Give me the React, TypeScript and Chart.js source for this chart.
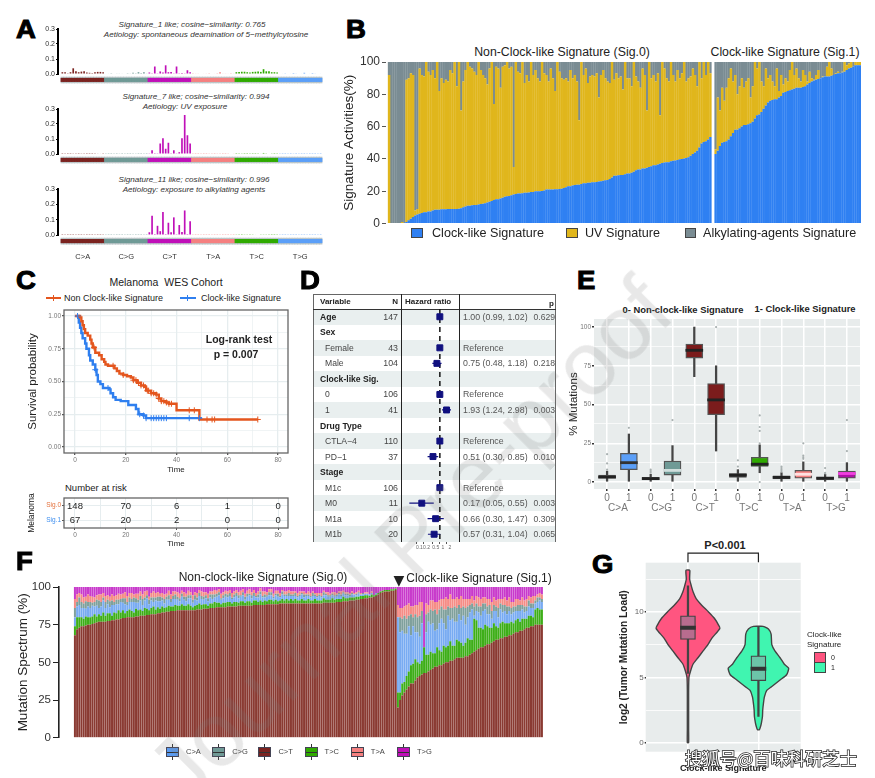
import React, { useEffect, useRef } from "react";
import { Chart, registerables } from "chart.js";
Chart.register(...registerables);
Chart.defaults.font.family = "'Liberation Sans', Arial, sans-serif";

// ---------- Panel A ----------
const mutationTypes = ["C>A", "C>G", "C>T", "T>A", "T>C", "T>G"];
const stripColors = ["#7B2320", "#6F9A96", "#C010B8", "#F58080", "#2FAA00", "#5B9FF8"];
const sig1Values = [
  .012,.012,.005,.012,.038,.018,.012,.016,.018,.01,.008,.006,.012,.014,.014,.012,
  .004,.003,.005,.003,.004,.004,.003,.004,.005,.004,.008,.005,.012,.006,.012,.004,
  .01,.002,.05,.002,.017,.01,.058,.012,.014,.002,.05,.005,.006,.002,.025,.012,
  .005,.004,.004,.004,.003,.004,.005,.004,.003,.005,.012,.004,.004,.003,.005,.004,
  .012,.014,.015,.015,.012,.01,.014,.015,.016,.014,.032,.018,.018,.012,.012,.01,
  .003,.003,.002,.004,.003,.006,.004,.003,.003,.008,.004,.003,.006,.004,.003,.003,
];
const sig7Values = [
  .001,.001,.001,.001,.002,.001,.001,.002,.001,.001,.001,.001,.002,.004,.003,.001,
  .001,.001,.001,.001,.001,.002,.001,.001,.001,.001,.001,.002,.001,.001,.001,.001,
  .002,.025,.001,.005,.07,.105,.035,.075,.001,.025,.002,.012,.105,.26,.125,.07,
  .001,.001,.001,.002,.001,.001,.002,.001,.001,.002,.001,.001,.001,.002,.003,.004,
  .001,.001,.002,.001,.001,.002,.001,.001,.002,.003,.007,.002,.003,.002,.001,.001,
  .001,.001,.001,.001,.001,.002,.001,.001,.001,.001,.002,.001,.001,.001,.001,.001,
];
const sig11Values = [
  .001,.001,.001,.001,.001,.001,.001,.001,.001,.001,.001,.001,.001,.001,.001,.001,
  .001,.001,.001,.001,.001,.001,.001,.001,.001,.001,.001,.001,.001,.001,.001,.001,
  .018,.125,.006,.06,.025,.15,.006,.08,.018,.115,.005,.065,.02,.16,.006,.09,
  .001,.001,.001,.001,.001,.001,.001,.001,.001,.001,.001,.001,.001,.001,.001,.001,
  .002,.001,.001,.002,.002,.002,.002,.003,.003,.002,.002,.002,.001,.001,.001,.001,
  .001,.001,.001,.001,.001,.001,.001,.001,.001,.001,.001,.001,.001,.001,.001,.001,
];

// ---------- Panel B ----------
const clockSig0 = [
  0,0,0,0,0,0,0,0,1,2,
  3,4,5,5.5,6,6.5,7,7,7.5,7.5,
  8,8.5,8.5,8.5,8.8,8.8,8.8,9,9,9,
  9,9,9.2,9.5,10,10.5,11,11,11.3,11.5,
  11.5,11.7,12,12.2,12.5,13,13.5,14,14.5,15,
  15,15.5,16,16.5,16.8,17,17.5,18,18.2,18.5,
  18.5,18.8,19,19,19.2,19.5,19.5,20,20,20,
  20.2,20.5,21,21,21,21,21.2,21.2,21.3,21.5,
  22,22.5,23,23,23.5,23.8,24,24,24.5,25,
  25,25.2,25.3,25.5,25.5,25.7,26,26.2,26.5,26.8,
  27,27.5,28.5,29.5,29.5,29.8,30,30,30.5,31,
  31,31.5,32,33,33.5,33.5,34,34,34.5,35,
  35.5,36,36,36.5,37,37.5,37.8,38,38,38.5,
  38.8,39,39.3,39.8,40,40.2,40.5,41,42,43,
  44,45,47,49.5,50.5,51,52,53.5,
];
const uvTopSig0 = [
  92,0,0,0,0,0,1,0,89,90,
  93,92,8,9,96,92,91,100,94,92,
  95,90,100,82,90,87,89,88,95,93,
  100,85,100,70,88,95,100,97,96,94,
  92,100,95,92,90,86,96,100,74,97,
  96,84,97,98,100,96,97,35,100,94,
  93,100,87,92,88,100,92,95,90,88,
  100,93,92,88,96,90,82,100,94,90,
  89,90,88,95,90,92,88,64,100,92,
  96,87,91,92,91,93,78,92,95,90,
  88,87,100,89,93,90,91,83,100,90,
  90,85,100,91,88,84,96,92,70,100,
  90,92,88,93,67,100,96,90,88,100,
  92,88,95,90,93,100,88,90,91,96,
  92,85,100,90,100,92,100,93,
];
const clockSig1 = [
  43,45,48,50,50.5,51,52,54,56,58,
  58,59,60,61,61,61.5,62,63,65,67,
  67.5,69,71,73,75,76,76.5,77,77,78,
  79,81,81.5,82,82.5,83,83.5,84,84,84,
  84.5,85,86,87,88,88.5,89,89.5,90,90.5,
  91,91,91,91.5,92,92.5,93,93,93.5,94,
  95,96,96.5,97,98,98,98,
];
const uvTopSig1 = [
  46,78,70,84,76,84,90,96,88,92,
  80,85,90,84,88,90,78,85,100,96,
  100,88,85,96,90,92,88,85,96,82,
  92,86,90,88,95,100,92,96,90,88,
  95,92,88,94,90,89,92,95,90,91,
  91,97,100,96,92,93,94,93,94,100,
  98,99,100,97,100,100,100,
];

// ---------- Panel C ----------
const kmTimes0 = [0,2,2.5,3,3.5,4,5,6,6.5,7,8,9.5,10.5,11.5,12,13,15.5,16.5,17.5,19,20.5,22,23,24.5,26,27.5,28,30,32,33,34,36,37,40,49,72];
const kmSurv0 = [1,.99,.96,.93,.90,.87,.85,.82,.79,.76,.72,.70,.67,.65,.63,.62,.60,.58,.56,.55,.54,.53,.51,.49,.47,.46,.43,.41,.40,.37,.35,.34,.33,.28,.21,.21];
const kmTimes1 = [.5,1.5,2,2.5,3,4,4.5,5.5,6,7,8,8.5,9,10,11,13.5,14,15,16,18,21,24,25,27,28,50];
const kmSurv1 = [1,.95,.91,.87,.83,.79,.75,.70,.66,.63,.59,.55,.50,.48,.45,.44,.41,.38,.36,.35,.32,.29,.25,.24,.22,.22];
const censor0 = [7.5,15,19,23,24,25,26,27,28.5,29,30,31,32,33,34,35,36,37,38,45,47,52,54,55,72];
const censor1 = [1,8,13,25.5,27,28,30,31,32,33,34,35,36,45,49];
const riskTimes = [0,20,40,60,80];
const riskSig0 = [148,70,6,1,0];
const riskSig1 = [67,20,2,0,0];

// ---------- Panel D ----------
const dVariables = ["Age","Sex","Female","Male","Clock-like Sig.","0","1","Drug Type","CTLA−4","PD−1","Stage","M1c","M0","M1a","M1b"];
const dBold = [1,1,0,0,1,0,0,1,0,0,1,0,0,0,0];
const dN = ["147","","43","104","","106","41","","110","37","","106","11","10","20"];
const dHR = [1,null,1,.75,null,1,1.93,null,1,.51,null,1,.17,.66,.57];
const dLow = [.99,null,null,.48,null,null,1.24,null,null,.30,null,null,.05,.30,.31];
const dHigh = [1.02,null,null,1.18,null,null,2.98,null,null,.85,null,null,.55,1.47,1.04];
const dText = ["1.00 (0.99, 1.02)","","Reference","0.75 (0.48, 1.18)","","Reference","1.93 (1.24, 2.98)","","Reference","0.51 (0.30, 0.85)","","Reference","0.17 (0.05, 0.55)","0.66 (0.30, 1.47)","0.57 (0.31, 1.04)"];
const dP = ["0.629","","","0.218","","","0.003","","","0.010","","","0.003","0.309","0.065"];
const dTicks = [.1,.2,.5,1,2];

// ---------- Panel E ----------
const eQ1 = [2.5,8,1.5,4.5,80,43.5,3,10,2,2.5,1.5,2.5];
const eMed = [3.2,12.5,2.2,7.5,85,53,4.5,11.5,3,5,2.5,5.5];
const eQ3 = [4.5,18.5,3,13.5,89,63.5,5.5,16,4,7.5,3,7];
const eLow = [.5,0,0,0,68,20,0,6,0,0,0,0];
const eHigh = [7,31,5,23.5,100,75,8,24,6,13,5,12.5];
const eBoxColors = ["#3A3A3A","#5B9FF8","#3A3A3A","#6F9A96","#7B1C1C","#7B1C1C","#3A3A3A","#2FAA00","#3A3A3A","#F58080","#3A3A3A","#B010A8"];
const eMedColors = ["#222","#333","#222","#D0DEDC","#222","#222","#222","#222","#222","#FFE0E0","#222","#F040E0"];
const eOutX = [0,0,0,1,2,2,2,3,5,6,6,7,7,7,7,7,8,8,8,8,9,9,9,9,10,10,10,11,11];
const eOutY = [8,12,18,35,6,7,8,40,100,10,14,0,25,33,35.5,43,7,8,9,10,15,16,17,25,5.5,6,9,20,40];
const eGroupTicks = [.5,2.5,4.5,6.5,8.5,10.5];
const eGroups = ["C>A","C>G","C>T","T>C","T>A","T>G"];

// ---------- Panel F ----------
const ctSig0 = [
  68,72,73,74,74,74.5,75,75,75.5,76,
  76.5,77,77,77,77,77.5,77.5,78,78,78.5,
  78.5,79,79.5,79.5,80,80,80,80,80.5,80.5,
  81,81,81,81.5,81.5,82,82,82,82.5,82.5,
  83,83,83.5,83.5,84,84,84,84.5,84.5,84.5,
  84.5,84.5,84.5,84.5,84.5,84.5,85,85,85,85.5,
  85.5,85.5,86,86,86,86.5,86.5,86.5,86.5,86.5,
  87,87,87,87,87,87.5,87.5,87.5,87.5,87.5,
  87.5,87.5,88,88,88,88,88,88,88.5,88.5,
  88.5,88.5,88.5,88.5,89,89,89,89,89,89,
  89,89,89,89,89,89,89,89,89,89,
  89,89,89,89,89.5,89.5,89.5,89.5,89.5,89.5,
  90,90,90,90.5,90.5,90.5,91,91,91,91.5,
  91.5,92,92,92.5,92.5,93,93,93.5,94,95,
  96,96.5,97,97,97,97.5,97.5,98,
];
const tcSig0 = [
  6,8,7,6,5,6,5,5,5,6,
  4,5,4,6,4,5,5,3,5,4,
  6,4,5,3,4,5,4,3,5,4,
  4,3,5,4,3,4,5,3,4,3,
  4,3,3,4,3,3,4,3,3,4,
  3,3,4,3,2,3,3,4,3,3,
  3,2,3,3,4,3,3,2,3,3,
  3,3,2,3,3,2,3,3,2,3,
  3,2,3,3,2,3,2,3,2,3,
  3,2,3,2,2,3,2,3,2,3,
  2,3,2,2,3,2,2,3,2,2,
  3,2,2,2,3,2,2,2,3,2,
  2,2,2,3,2,2,2,2,2,2,
  2,2,2,2,2,1,2,1,1,1,
  1,1,1,1,1,1,1,1,
];
const caSig0 = [
  6,7,8,6,7,5,7,6,7,5,
  7,4,6,8,5,6,4,7,5,6,
  4,7,5,6,4,5,6,7,4,5,
  6,4,5,7,4,5,3,6,4,5,
  4,3,5,4,3,5,4,4,3,5,
  4,3,4,5,3,4,3,5,4,3,
  4,3,4,3,3,4,5,3,3,4,
  3,4,3,3,4,3,3,4,2,3,
  4,3,3,2,3,4,3,2,3,3,
  3,2,3,3,2,3,3,2,3,2,
  3,2,2,3,3,2,3,2,2,3,
  2,2,3,2,2,3,2,2,2,2,
  2,3,2,2,2,2,1,2,2,1,
  2,1,1,1,1,1,1,0,1,0,
  0,0,0,0,0,0,0,0,
];
const cgSig0 = [
  6,3,5,4,3,5,3,4,2,3,
  4,5,3,2,4,3,4,3,2,3,
  3,2,3,4,2,3,2,3,3,2,
  3,4,2,2,3,2,3,2,3,3,
  2,3,2,3,2,2,3,2,2,2,
  2,3,2,2,2,3,2,2,2,2,
  2,2,2,3,2,2,2,1,2,2,
  2,2,1,2,2,2,1,2,2,2,
  1,2,2,1,2,2,1,2,1,2,
  2,1,1,2,1,2,1,1,2,1,
  1,2,1,1,1,2,1,1,1,2,
  1,1,1,1,2,1,1,1,1,1,
  1,1,1,1,1,1,1,1,0,1,
  1,0,1,0,0,0,0,0,0,0,
  0,0,0,0,0,0,0,0,
];
const taSig0 = [
  6,5,3,5,4,3,5,4,4,3,
  3,4,5,3,4,3,3,4,4,3,
  4,3,3,4,4,3,4,2,3,4,
  3,3,4,3,2,3,4,3,3,2,
  3,3,2,3,3,3,2,3,3,2,
  3,2,3,2,3,2,3,2,3,3,
  2,3,2,2,3,2,2,3,2,2,
  2,2,3,2,2,2,3,2,2,2,
  3,2,2,2,2,2,3,2,2,2,
  2,2,2,2,2,1,2,2,2,2,
  2,1,2,2,1,2,1,2,2,1,
  1,2,1,2,1,1,2,1,1,2,
  1,1,2,1,1,1,1,1,1,1,
  1,1,0,1,1,0,1,0,0,0,
  0,0,0,0,0,0,0,0,
];
const ctSig1 = [
  20,25,28,30,32,34,36,36,38,40,
  41,42,43,43,44,45,46,47,47,48,
  48,49,50,50,51,51,52,53,53,53,
  53,54,54,55,56,57,58,59,60,60,
  61,62,62,63,64,65,65,66,66,67,
  67,68,68,69,70,70,71,71,72,73,
  73,74,74,75,75,75,75,
];
const tcSig1 = [
  10,5,8,7,9,10,12,13,14,10,
  8,9,17,12,11,12,10,9,13,10,
  9,12,10,11,13,10,9,12,11,10,
  8,9,12,10,9,22,20,14,13,12,
  14,12,11,10,12,9,8,10,11,9,
  9,8,9,7,8,9,6,8,7,6,
  8,7,6,10,11,10,10,
];
const caSig1 = [
  50,40,35,32,28,30,20,25,18,20,
  18,25,0,15,22,18,20,15,12,18,
  22,15,12,20,14,18,16,12,18,15,
  20,12,14,18,20,2,6,10,8,12,
  10,8,9,6,8,10,7,9,6,8,
  6,8,5,7,6,5,7,6,4,5,
  6,5,6,4,4,6,5,
];
const cgSig1 = [
  0,10,8,12,10,7,14,6,12,10,
  14,8,0,12,6,10,8,14,10,9,
  8,9,13,6,8,7,10,9,6,8,
  6,11,7,5,4,6,5,4,6,5,
  4,5,6,5,4,3,6,4,5,4,
  5,3,4,4,3,4,4,3,4,3,
  4,3,3,2,3,2,2,
];
const taSig1 = [
  8,6,7,6,9,8,5,7,6,8,
  9,6,0,7,5,6,7,5,8,6,
  5,7,8,5,9,6,5,7,4,8,
  5,6,5,4,5,4,5,6,5,4,
  4,5,4,6,5,4,6,3,4,5,
  4,6,4,3,5,4,3,5,4,5,
  3,4,5,3,2,3,3,
];

// ---------- Panel G ----------
const violin0Y = [13.2,12.5,12,11.5,11,10.5,10,9.5,9,8.75,8,7.5,7,6.5,6,5.5,5,4,3,2,1,0];
const violin0Half = [.028,.024,.047,.075,.118,.198,.292,.377,.434,.453,.34,.283,.212,.142,.071,.038,.014,.009,.009,.009,.009,.009];
const violin1Y = [8.9,8.7,8.3,7.5,7,6.5,6,5.7,5.2,4.8,4.3,4,3.5,3,2.5,2,1.5,1.2,1];
const violin1Half = [.07,.142,.18,.19,.236,.307,.368,.429,.40,.307,.19,.118,.085,.071,.061,.057,.042,.028,.014];
const gQ1 = [7.9,4.75];
const gMed = [8.8,5.65];
const gQ3 = [9.7,6.65];
const gLow = [5.3,2];
const gHigh = [12,8.9];

// ---------- Layout helpers ----------
type Rect = { left: number; top: number; right: number; bottom: number };
const frame = (color: string, width: number) => ({
  id: "frame",
  afterDraw(c: any) {
    const a = c.chartArea;
    c.ctx.save();
    c.ctx.strokeStyle = color;
    c.ctx.lineWidth = width;
    c.ctx.strokeRect(a.left, a.top, a.right - a.left, a.bottom - a.top);
    c.ctx.restore();
  },
});
const panelBg = (color: string) => ({
  id: "panelBg",
  beforeDraw(c: any) {
    const a = c.chartArea;
    c.ctx.save();
    c.ctx.fillStyle = color;
    c.ctx.fillRect(a.left, a.top, a.right - a.left, a.bottom - a.top);
    c.ctx.restore();
  },
});
const fixedTicks = (values: number[]) => (s: any) => {
  s.ticks = values.map((value) => ({ value }));
};
const hiddenX = { ticks: { display: false }, border: { display: false } };

function Panel({ box, area, make }: { box: Rect; area: Rect; make: () => any }) {
  const ref = useRef<HTMLCanvasElement>(null);
  useEffect(() => {
    const cfg = make();
    const o = cfg.options;
    o.responsive = false;
    o.animation = false;
    o.layout = { padding: { top: area.top - box.top, right: box.right - area.right, left: 0, bottom: 0 } };
    o.plugins = { legend: { display: false }, tooltip: { enabled: false }, ...(o.plugins || {}) };
    o.scales.x.afterFit = o.scales.x.afterFit || ((s: any) => { s.height = box.bottom - area.bottom; });
    o.scales.y.afterFit = (s: any) => { s.width = area.left - box.left; };
    const chart = new Chart(ref.current as any, cfg);
    return () => chart.destroy();
  }, []);
  return (
    <canvas
      ref={ref}
      width={box.right - box.left}
      height={box.bottom - box.top}
      style={{ position: "absolute", left: box.left, top: box.top, width: box.right - box.left, height: box.bottom - box.top }}
    />
  );
}

function T({ x, y, children, size = 10, bold, italic, color = "#222", align = "left", rot = 0, extra = {} }: any) {
  const tx = align === "center" ? "-50%" : align === "right" ? "-100%" : "0";
  return (
    <div
      style={{
        position: "absolute", left: x, top: y, whiteSpace: "pre", lineHeight: 1,
        fontFamily: "'Liberation Sans', Arial, sans-serif", fontSize: size,
        fontWeight: bold ? "bold" : "normal", fontStyle: italic ? "italic" : "normal", color,
        transform: `translate(${tx},-50%) rotate(${rot}deg)`, ...extra,
      }}
    >
      {children}
    </div>
  );
}
const Letter = ({ x, y, children }: any) => (
  <T x={x} y={y} size={25} bold color="#000" extra={{ WebkitTextStroke: "1px #000", transform: "translate(0,-50%) scaleX(1.1)", transformOrigin: "left center" }}>
    {children}
  </T>
);
const Swatch = ({ x, y, w, h, color, border = "#444", bw = 1 }: any) => (
  <div style={{ position: "absolute", left: x, top: y, width: w, height: h, background: color, border: `${bw}px solid ${border}`, boxSizing: "border-box" }} />
);
const Rule = ({ x, y, w, h, color }: any) => (
  <div style={{ position: "absolute", left: x, top: y, width: w, height: h, background: color }} />
);

// ---------- Chart builders ----------
const signatureChart = (values: number[], showLabels: boolean) => () => ({
  type: "bar",
  data: {
    datasets: [
      {
        data: values.map((y, x) => ({ x, y })),
        backgroundColor: values.map((_, i) => stripColors[Math.floor(i / 16)]),
        barPercentage: 0.62, categoryPercentage: 1, grouped: false,
      },
      {
        data: values.map((_, x) => ({ x, y: [-0.053, -0.026] })),
        backgroundColor: values.map((_, i) => stripColors[Math.floor(i / 16)]),
        barPercentage: 1.3, categoryPercentage: 1, grouped: false, clip: false,
      },
      {
        data: values.map((_, x) => ({ x, y: [-0.062, -0.018] })),
        backgroundColor: "#BCC6C8",
        barPercentage: 1.3, categoryPercentage: 1, grouped: false, clip: false,
      },
    ],
  },
  options: {
    scales: {
      x: {
        type: "linear", offset: false, min: -1.6, max: 95.5,
        grid: { display: false, offset: false, drawTicks: false }, border: { display: false },
        afterBuildTicks: fixedTicks([7.5, 23.5, 39.5, 55.5, 71.5, 87.5]),
        ticks: {
          display: showLabels, padding: 17, autoSkip: false, maxRotation: 0, color: "#333",
          font: { size: 7.5 },
          callback: (_: any, i: number) => mutationTypes[i],
        },
      },
      y: {
        min: 0, max: 0.3,
        afterBuildTicks: fixedTicks([0, .1, .2, .3]),
        border: { color: "#000", width: 2 },
        grid: { drawOnChartArea: false, tickLength: 2, tickColor: "#000" },
        ticks: { color: "#333", font: { size: 7 }, padding: 1, callback: (v: number) => v.toFixed(1) },
      },
    },
  },
});

const activityChart = () => {
  const gap = 1.4;
  const xOf = (i: number, sig1: boolean) => (sig1 ? i + clockSig0.length + gap : i);
  const rows = [
    ...clockSig0.map((c, i) => ({ x: xOf(i, false), c, top: Math.max(uvTopSig0[i], c) })),
    ...clockSig1.map((c, i) => ({ x: xOf(i, true), c, top: Math.max(uvTopSig1[i], c) })),
  ];
  return {
    type: "bar",
    data: {
      datasets: [
        { label: "Clock-like Signature", data: rows.map((r) => ({ x: r.x, y: r.c })), backgroundColor: "#2F80F2" },
        { label: "UV Signature", data: rows.map((r) => ({ x: r.x, y: r.top - r.c })), backgroundColor: "#E0B61C" },
        { label: "Alkylating-agents Signature", data: rows.map((r) => ({ x: r.x, y: 100 - r.top })), backgroundColor: "#7A8C93" },
      ],
    },
    options: {
      datasets: { bar: { barPercentage: 1.12, categoryPercentage: 1 } },
      scales: {
        x: { type: "linear", offset: false, min: -1.4, max: clockSig0.length + gap + clockSig1.length - 0.5, stacked: true, ...hiddenX, grid: { display: false, offset: false, drawTicks: false } },
        y: {
          stacked: true, min: 0, max: 100,
          afterBuildTicks: fixedTicks([0, 20, 40, 60, 80, 100]),
          border: { display: false },
          grid: { drawOnChartArea: false, tickLength: 4, tickColor: "#555" },
          ticks: { color: "#333", font: { size: 12 }, padding: 2 },
          title: { display: true, text: "Signature Activities(%)", color: "#222", font: { size: 13.5 }, padding: 0 },
        },
      },
    },
  };
};

const stepAt = (times: number[], surv: number[], t: number) => {
  let s = surv[0];
  times.forEach((tt, i) => { if (tt <= t) s = surv[i]; });
  return s;
};
const timeAxisBase = {
  type: "linear", min: -4.33, max: 83.9,
  afterBuildTicks: fixedTicks([0, 10, 20, 30, 40, 50, 60, 70, 80]),
  ticks: { autoSkip: false, maxRotation: 0, color: "#777", font: { size: 6.5 }, padding: 1, callback: (v: number) => (v % 20 === 0 ? String(v) : "") },
  border: { display: false },
};
const survivalChart = () => ({
  type: "line",
  data: {
    datasets: [
      { data: censor0.map((t) => ({ x: t, y: stepAt(kmTimes0, kmSurv0, t) })), showLine: false, pointStyle: "cross", pointRadius: 3, borderColor: "#E4561E", borderWidth: 1 },
      { data: censor1.map((t) => ({ x: t, y: stepAt(kmTimes1, kmSurv1, t) })), showLine: false, pointStyle: "cross", pointRadius: 3, borderColor: "#2F7FEF", borderWidth: 1 },
      { data: kmTimes0.map((x, i) => ({ x, y: kmSurv0[i] })), stepped: "before", borderColor: "#E4561E", borderWidth: 2.4, pointRadius: 0 },
      { data: kmTimes1.map((x, i) => ({ x, y: kmSurv1[i] })), stepped: "before", borderColor: "#2F7FEF", borderWidth: 2.4, pointRadius: 0 },
    ],
  },
  options: {
    scales: {
      x: {
        ...timeAxisBase,
        grid: {
          color: "#E6EDEF", lineWidth: (c: any) => (c.tick && c.tick.value % 20 === 0 ? 1.3 : .6), tickLength: 2,
          tickColor: (c: any) => (c.tick && c.tick.value % 20 === 0 ? "#555" : "transparent"),
        },
        title: { display: true, text: "Time", color: "#222", font: { size: 8 }, padding: 0 },
      },
      y: {
        min: -0.046, max: 1.046,
        afterBuildTicks: fixedTicks([0, .125, .25, .375, .5, .625, .75, .875, 1]),
        border: { display: false },
        grid: {
          color: "#E6EDEF", lineWidth: (c: any) => (c.tick && c.tick.value * 4 % 1 === 0 ? 1.3 : .6), tickLength: 2,
          tickColor: (c: any) => (c.tick && c.tick.value * 4 % 1 === 0 ? "#555" : "transparent"),
        },
        ticks: { color: "#777", font: { size: 6.5 }, padding: 1, callback: (v: number) => (v * 4 % 1 === 0 ? v.toFixed(2) : "") },
        title: { display: true, text: "Survival probability", color: "#222", font: { size: 11.5 }, padding: 0 },
      },
    },
  },
  plugins: [frame("#666", 1.3)],
});

const riskNumbers = {
  id: "riskNumbers",
  afterDatasetsDraw(c: any) {
    const { ctx, scales } = c;
    ctx.save();
    ctx.fillStyle = "#222";
    ctx.font = "9.5px 'Liberation Sans'";
    ctx.textAlign = "center";
    ctx.textBaseline = "middle";
    riskTimes.forEach((t, i) => {
      ctx.fillText(String(riskSig0[i]), scales.x.getPixelForValue(t), scales.y.getPixelForValue("Sig.0") + 1);
      ctx.fillText(String(riskSig1[i]), scales.x.getPixelForValue(t), scales.y.getPixelForValue("Sig.1"));
    });
    ctx.restore();
  },
};
const riskChart = () => ({
  type: "line",
  data: { datasets: [] },
  options: {
    scales: {
      x: {
        ...timeAxisBase,
        grid: {
          color: "#E6EDEF", lineWidth: 1, tickLength: 2,
          tickColor: (c: any) => (c.tick && c.tick.value % 20 === 0 ? "#555" : "transparent"),
        },
        title: { display: true, text: "Time", color: "#222", font: { size: 8 }, padding: 0 },
      },
      y: {
        type: "category", labels: ["Sig.0", "Sig.1"], offset: true,
        border: { display: false },
        grid: { color: "#E6EDEF", tickLength: 2, tickColor: "#555" },
        ticks: { font: { size: 6.5 }, padding: 1, color: (c: any) => (c.index === 0 ? "#E4723E" : "#3F8FEF") },
        title: { display: true, text: "Melanoma", color: "#222", font: { size: 8.5 }, padding: 0 },
      },
    },
  },
  plugins: [frame("#666", 1.3), riskNumbers],
});

const forestChart = () => {
  const rows = dHR.map((hr, i) => ({ hr, lo: dLow[i], hi: dHigh[i], y: i + 0.5 })).filter((r) => r.hr !== null);
  return {
    type: "line",
    data: {
      datasets: [
        { data: rows.map((r) => ({ x: r.hr, y: r.y })), showLine: false, pointStyle: "rect", pointRadius: 4.2, backgroundColor: "#10107F", borderColor: "#10107F" },
        ...rows.filter((r) => r.lo !== null).map((r) => ({ data: [{ x: r.lo, y: r.y }, { x: r.hi, y: r.y }], borderColor: "#10107F", borderWidth: 1.2, pointRadius: 0 })),
        { data: [{ x: 1, y: 0 }, { x: 1, y: 15 }], borderColor: "#111", borderWidth: 1.5, borderDash: [5, 4], pointRadius: 0 },
      ],
    },
    options: {
      scales: {
        x: {
          type: "logarithmic", min: 0.0368, max: 3.93,
          afterBuildTicks: fixedTicks(dTicks),
          border: { display: false },
          grid: { drawOnChartArea: false, tickLength: 2, tickColor: "#555" },
          ticks: { autoSkip: false, maxRotation: 0, color: "#666", font: { size: 5 }, padding: 1, labelOffset: 3, callback: (v: number) => String(v) },
        },
        y: { type: "linear", reverse: true, min: 0, max: 15, ticks: { display: false }, grid: { display: false }, border: { display: false } },
      },
    },
  };
};

const boxChart = () => {
  const idx = eQ1.map((_, i) => i);
  return {
    type: "bar",
    data: {
      datasets: [
        { type: "scatter", data: eOutX.map((x, i) => ({ x, y: eOutY[i] })), pointRadius: 1.1, backgroundColor: "#A8B0B0", borderWidth: 0 },
        { data: idx.map((i) => ({ x: i, y: [eMed[i] - .7, eMed[i] + .7] })), backgroundColor: eMedColors, barThickness: 17, grouped: false },
        { data: idx.map((i) => ({ x: i, y: [eQ1[i], eQ3[i]] })), backgroundColor: eBoxColors, borderColor: "#555", borderWidth: 1.3, borderSkipped: false, barThickness: 17, grouped: false },
        { data: idx.map((i) => ({ x: i, y: [eLow[i], eHigh[i]] })), backgroundColor: "#444", barThickness: 1.6, grouped: false },
      ],
    },
    options: {
      scales: {
        x: {
          type: "linear", offset: false, min: -0.6, max: 11.6, weight: 0,
          afterBuildTicks: fixedTicks(idx),
          afterFit: (s: any) => { s.height = 13; },
          border: { display: false },
          grid: { color: "#fff", lineWidth: 1.5, offset: false, tickLength: 2, tickColor: "#333" },
          ticks: { autoSkip: false, maxRotation: 0, color: "#777", font: { size: 10 }, padding: 1, callback: (v: number) => String(v % 2) },
        },
        x2: {
          type: "linear", position: "bottom", offset: false, min: -0.6, max: 11.6, weight: 1,
          afterBuildTicks: fixedTicks(eGroupTicks),
          afterFit: (s: any) => { s.height = 12; },
          border: { display: false }, grid: { display: false, drawTicks: false, offset: false },
          ticks: { autoSkip: false, maxRotation: 0, color: "#777", font: { size: 10 }, padding: 0, callback: (_: any, i: number) => eGroups[i] },
        },
        y: {
          min: -4.5, max: 105.2,
          afterBuildTicks: fixedTicks([0, 12.5, 25, 37.5, 50, 62.5, 75, 87.5, 100]),
          border: { display: false },
          grid: {
            color: "#fff", lineWidth: (c: any) => (c.tick && c.tick.value % 25 === 0 ? 1.5 : .7), tickLength: 2,
            tickColor: (c: any) => (c.tick && c.tick.value % 25 === 0 ? "#333" : "transparent"),
          },
          ticks: { color: "#777", font: { size: 6.5 }, padding: 1, callback: (v: number) => (v % 25 === 0 ? String(v) : "") },
          title: { display: true, text: "% Mutations", color: "#222", font: { size: 11.5 }, padding: 0 },
        },
      },
    },
    plugins: [panelBg("#E8ECEC")],
  };
};

const spectrumChart = () => {
  const ct = [...ctSig0, ...ctSig1];
  const tc = [...tcSig0, ...tcSig1];
  const ca = [...caSig0, ...caSig1];
  const cg = [...cgSig0, ...cgSig1];
  const ta = [...taSig0, ...taSig1];
  const tg = ct.map((v, i) => Math.max(0, 100 - v - tc[i] - ca[i] - cg[i] - ta[i]));
  const series = (vals: number[], label: string, backgroundColor: string) => ({ label, data: vals.map((y, x) => ({ x, y })), backgroundColor });
  return {
    type: "bar",
    data: {
      datasets: [
        series(ct, "C>T", "#8A3A32"),
        series(tc, "T>C", "#3DAE18"),
        series(ca, "C>A", "#78ABF2"),
        series(cg, "C>G", "#7FA09C"),
        series(ta, "T>A", "#F58C86"),
        series(tg, "T>G", "#C83ACB"),
      ],
    },
    options: {
      datasets: { bar: { barPercentage: .92, categoryPercentage: 1 } },
      scales: {
        x: { type: "linear", offset: false, min: -7.3, max: ct.length - .5, stacked: true, ...hiddenX, grid: { display: false, offset: false, drawTicks: false } },
        y: {
          stacked: true, min: 0, max: 100,
          afterBuildTicks: fixedTicks([0, 25, 50, 75, 100]),
          border: { color: "#222", width: 1.6 },
          grid: { drawOnChartArea: false, tickLength: 6, tickColor: "#222" },
          ticks: { color: "#333", font: { size: 11.5 }, padding: 2 },
          title: { display: true, text: "Mutation Spectrum (%)", color: "#222", font: { size: 13.5 }, padding: 0 },
        },
      },
    },
  };
};

const violinPath = (center: number, ys: number[], half: number[]) => {
  const right = ys.map((y, i) => ({ x: center + half[i], y }));
  const left = ys.map((y, i) => ({ x: center - half[i], y })).reverse();
  return [...right, ...left, right[0]];
};
const violinChart = () => ({
  type: "bar",
  data: {
    datasets: [
      { data: [1, 2].map((x, i) => ({ x, y: [gMed[i] - .13, gMed[i] + .13] })), backgroundColor: "#333", barThickness: 15, grouped: false },
      { data: [1, 2].map((x, i) => ({ x, y: [gQ1[i], gQ3[i]] })), backgroundColor: ["#B86C8E", "#6CC4A8"], borderColor: "#444", borderWidth: 1.3, borderSkipped: false, barThickness: 15, grouped: false },
      { data: [1, 2].map((x, i) => ({ x, y: [gLow[i], gHigh[i]] })), backgroundColor: "#444", barThickness: 1.6, grouped: false },
      { type: "line", data: violinPath(1, violin0Y, violin0Half), fill: "shape", backgroundColor: "#FF5580", borderColor: "#444", borderWidth: 1.4, pointRadius: 0, tension: .2 },
      { type: "line", data: violinPath(2, violin1Y, violin1Half), fill: "shape", backgroundColor: "#40F5B0", borderColor: "#444", borderWidth: 1.4, pointRadius: 0, tension: .2 },
      { type: "line", data: [{ x: 1, y: 13.8 }, { x: 1, y: 14.5 }, { x: 2, y: 14.5 }, { x: 2, y: 13.8 }], borderColor: "#222", borderWidth: 1.2, pointRadius: 0, clip: false },
    ],
  },
  options: {
    scales: {
      x: {
        type: "linear", offset: false, min: .4, max: 2.6,
        afterBuildTicks: fixedTicks([1, 2]),
        border: { display: false },
        grid: { color: "#fff", lineWidth: 1.5, offset: false, tickLength: 0, drawTicks: false },
        ticks: { display: false },
        title: { display: true, text: "Clock-like Signature", color: "#222", font: { size: 9, weight: "bold" }, padding: 0 },
      },
      y: {
        min: -.69, max: 13.77,
        afterBuildTicks: fixedTicks([0, 2.5, 5, 7.5, 10, 12.5]),
        border: { display: false },
        grid: { color: "#fff", lineWidth: (c: any) => (c.tick && c.tick.value % 5 === 0 ? 1.6 : .8), tickLength: 1, tickColor: (c: any) => (c.tick && c.tick.value % 5 === 0 ? "#333" : "transparent") },
        ticks: { color: "#666", font: { size: 8 }, padding: 1, callback: (v: number) => (v % 5 === 0 ? String(v) : "") },
        title: { display: true, text: "log2 (Tumor Mutation Load)", color: "#222", font: { size: 10.2, weight: "bold" }, padding: 0 },
      },
    },
  },
  plugins: [panelBg("#E8ECEC")],
});

// ---------- Texts placed around the panels ----------
const fLegend = [["C>A", "#5B9BF0"], ["C>G", "#6F9A96"], ["C>T", "#7B2320"], ["T>C", "#2FAA00"], ["T>A", "#F58080"], ["T>G", "#C010B8"]];
const aTitles: [string, number, number][] = [
  ["Signature_1 like; cosine−similarity: 0.765", 192, 25],
  ["Aetiology: spontaneous deamination of 5−methylcytosine", 206, 34.5],
  ["Signature_7 like; cosine−similarity: 0.994", 196, 97],
  ["Aetiology: UV exposure", 185, 107],
  ["Signature_11 like; cosine−similarity: 0.996", 194, 180],
  ["Aetiology: exposure to alkylating agents", 194, 190],
];

export default function App() {
  const forestRowH = 233 / 15;
  return (
    <div style={{ position: "absolute", left: 0, top: 0, width: 875, height: 778, overflow: "hidden", background: "#fff", filter: "blur(0.4px)" }}>
      {/* A */}
      <Letter x={16} y={29}>A</Letter>
      {aTitles.map(([s, x, y]) => <T key={s} x={x} y={y} size={8.1} italic align="center" color="#333">{s}</T>)}
      <Panel box={{ left: 40, top: 22, right: 330, bottom: 90 }} area={{ left: 58, top: 29, right: 322, bottom: 74 }} make={signatureChart(sig1Values, false)} />
      <Panel box={{ left: 40, top: 102, right: 330, bottom: 170 }} area={{ left: 58, top: 109, right: 322, bottom: 154 }} make={signatureChart(sig7Values, false)} />
      <Panel box={{ left: 40, top: 182, right: 330, bottom: 264 }} area={{ left: 58, top: 189, right: 322, bottom: 235 }} make={signatureChart(sig11Values, true)} />

      {/* B */}
      <Letter x={346} y={29}>B</Letter>
      <T x={562} y={52} size={12.3} align="center">Non-Clock-like Signature (Sig.0)</T>
      <T x={785} y={52} size={12.3} align="center">Clock-like Signature (Sig.1)</T>
      <Panel box={{ left: 341, top: 50, right: 866, bottom: 238 }} area={{ left: 386, top: 62, right: 861, bottom: 223.5 }} make={activityChart} />
      <Swatch x={411} y={228} w={12} h={10} color="#2F80F2" />
      <T x={432} y={233} size={12.6}>Clock-like Signature</T>
      <Swatch x={566} y={228} w={12} h={10} color="#E0B61C" />
      <T x={585} y={233} size={12.6}>UV Signature</T>
      <Swatch x={685} y={228} w={11} h={10} color="#7A8C93" />
      <T x={703} y={233} size={12.6}>Alkylating-agents Signature</T>

      {/* C */}
      <Letter x={16} y={280}>C</Letter>
      <T x={166} y={282} size={10.5} align="center">Melanoma  WES Cohort</T>
      <Rule x={46} y={297} w={15} h={2} color="#E4561E" />
      <Rule x={53} y={295} w={1} h={6} color="#E4561E" />
      <T x={64} y={298} size={9}>Non Clock-like Signature</T>
      <Rule x={180} y={297} w={16} h={2} color="#2F7FEF" />
      <Rule x={187} y={295} w={1} h={6} color="#2F7FEF" />
      <T x={201} y={298} size={9}>Clock-like Signature</T>
      <Panel box={{ left: 26, top: 300, right: 295, bottom: 475 }} area={{ left: 64, top: 310, right: 288, bottom: 453 }} make={survivalChart} />
      <T x={239} y={339} size={10.5} bold align="center">Log-rank test</T>
      <T x={236} y={354} size={10.5} bold align="center">p = 0.007</T>
      <T x={65} y={488} size={9.5}>Number at risk</T>
      <Panel box={{ left: 27, top: 490, right: 295, bottom: 549 }} area={{ left: 64, top: 498, right: 288, bottom: 528 }} make={riskChart} />

      {/* D */}
      <Letter x={300} y={280}>D</Letter>
      <div style={{ position: "absolute", left: 313, top: 294, width: 243, height: 248, border: "1.3px solid #666", boxSizing: "border-box" }} />
      {dVariables.map((_, i) => (
        <div key={i} style={{ position: "absolute", left: 314, top: 309 + i * forestRowH, width: 241, height: forestRowH, background: i % 2 === 0 ? "#E9EFEF" : "#fff" }} />
      ))}
      <Rule x={313} y={308.5} w={243} h={1} color="#333" />
      <Rule x={400.5} y={294} w={1.5} h={248} color="#222" />
      <Rule x={458.5} y={294} w={1.5} h={248} color="#222" />
      <T x={320} y={302} size={8} bold>Variable</T>
      <T x={398} y={302} size={8} bold align="right">N</T>
      <T x={405} y={302} size={8} bold>Hazard ratio</T>
      <T x={554} y={303.5} size={8} bold align="right">p</T>
      {dVariables.map((v, i) => {
        const y = 309 + (i + .5) * forestRowH;
        return (
          <React.Fragment key={v + i}>
            <T x={dBold[i] ? 320 : 325} y={y} size={8.6} bold={!!dBold[i]} color={dBold[i] ? "#222" : "#444"}>{v}</T>
            <T x={398} y={y} size={8.8} align="right" color="#444">{dN[i]}</T>
            <T x={463} y={y} size={8.8} color="#555">{dText[i]}</T>
            <T x={555} y={y} size={8.6} align="right" color="#555">{dP[i]}</T>
          </React.Fragment>
        );
      })}
      <Panel box={{ left: 401, top: 301, right: 459, bottom: 554 }} area={{ left: 401, top: 309, right: 459, bottom: 542 }} make={forestChart} />

      {/* E */}
      <Letter x={577} y={280}>E</Letter>
      <T x={683} y={310} size={9.4} bold align="center">0- Non-clock-like Signature</T>
      <T x={805} y={309} size={9.4} bold align="center">1- Clock-like Signature</T>
      <Panel box={{ left: 567, top: 311, right: 866, bottom: 514 }} area={{ left: 594, top: 319, right: 860, bottom: 489 }} make={boxChart} />

      {/* F */}
      <Letter x={16} y={561}>F</Letter>
      <T x={263} y={577} size={12} align="center">Non-clock-like Signature (Sig.0)</T>
      <T x={479} y={578} size={12} align="center">Clock-like Signature (Sig.1)</T>
      <T x={399} y={580} size={14} align="center" color="#222" extra={{ fontFamily: "'DejaVu Sans'" }}>▼</T>
      <Panel box={{ left: 15, top: 577, right: 548, bottom: 752 }} area={{ left: 59, top: 587, right: 543, bottom: 737.7 }} make={spectrumChart} />
      {fLegend.map(([name, color], i) => (
        <React.Fragment key={name}>
          <Rule x={172 + i * 46.2} y={744} w={1} h={16} color="#333" />
          <Swatch x={166 + i * 46.2} y={747} w={13} h={10} color={color} border="#445" />
          <Rule x={167 + i * 46.2} y={751.5} w={11} h={1} color="#333" />
          <T x={186 + i * 46.2} y={752} size={7.5} color="#444">{name}</T>
        </React.Fragment>
      ))}

      {/* G */}
      <Letter x={592} y={564}>G</Letter>
      <T x={725} y={545} size={11} bold align="center">P&lt;0.001</T>
      <Panel box={{ left: 618, top: 545, right: 810, bottom: 774 }} area={{ left: 645.7, top: 562.7, right: 800.7, bottom: 751.7 }} make={violinChart} />
      <T x={807} y={635} size={8}>Clock-like</T>
      <T x={807} y={645} size={8}>Signature</T>
      <Swatch x={814} y={652} w={11.5} h={10.5} color="#FF5580" bw={1.3} />
      <Swatch x={814} y={662} w={11.5} h={10.5} color="#40F5B0" bw={1.3} />
      <T x={831} y={657} size={7}>0</T>
      <T x={831} y={667} size={7}>1</T>

      {/* Marks printed over the figure */}
      <T x={410} y={540} size={90} align="center" color="rgba(120,120,120,0.17)" extra={{ transform: "translate(-50%,-50%) rotate(-45deg)" }}>Journal Pre-proof</T>
      <T x={771} y={758} size={17.3} align="center" color="#fff" extra={{ fontFamily: "'Noto Sans CJK SC'", WebkitTextStroke: "1.5px #222", paintOrder: "stroke fill" }}>搜狐号@百味科研芝士</T>
    </div>
  );
}
